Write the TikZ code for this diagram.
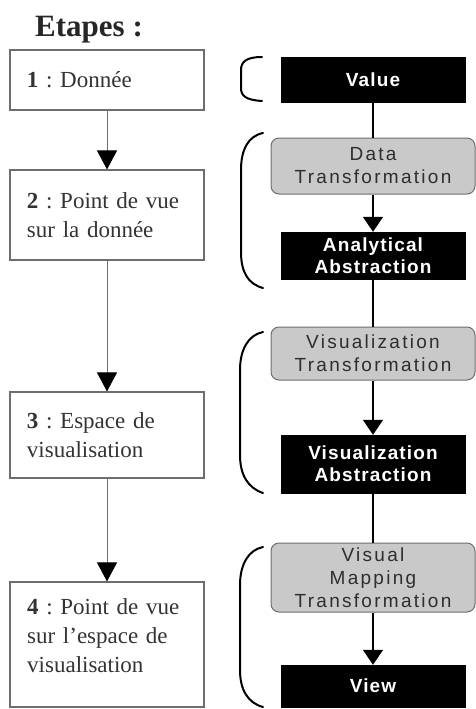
\documentclass[tikz,border=0pt]{standalone}
\usepackage{fontspec}
\setmainfont{Liberation Serif}
\newfontfamily\arsansb[LetterSpace=6]{Liberation Sans}
\newfontfamily\arsans[LetterSpace=12]{Liberation Sans}
\usetikzlibrary{arrows.meta}
\definecolor{boxgray}{HTML}{C9C9C9}
\definecolor{edgegray}{HTML}{6E6E6E}
\definecolor{txtgray}{HTML}{2E2E2E}
\frenchspacing
\begin{document}
\begin{tikzpicture}[x=1pt,y=-1pt,
  stepbox/.style={draw=edgegray, line width=1.1pt, minimum width=194pt, text width=160pt,
    inner xsep=17pt, align=left, font=\fontsize{23}{29}\selectfont, text=black!80},
  blackbox/.style={fill=black, draw=black, minimum width=184pt, align=center,
    font=\arsansb\bfseries\fontsize{19}{22}\selectfont, text=white, inner sep=0pt},
  graybox/.style={fill=boxgray, draw=edgegray, line width=1pt, rounded corners=8pt,
    minimum width=204pt, align=center, font=\arsans\fontsize{19}{23}\selectfont, text=txtgray, inner sep=0pt},
  leftarrow/.style={draw=edgegray, line width=1pt, -{Triangle[width=20pt,length=19pt,color=black]}},
  rightline/.style={draw=black, line width=1.4pt},
  rightarrow/.style={rightline, -{Triangle[width=20pt,length=15pt]}},
  brace/.style={draw=black, line width=2pt, line cap=round}]
\useasboundingbox (0,0) rectangle (476,709);

% title
\node[anchor=base west, inner sep=0pt, font=\bfseries\fontsize{31}{34}\selectfont, text=black!85] (title) at (35,37) {Etapes :};

% left steps
\node[stepbox, minimum height=60pt] (b1) at (107,80) {\textbf{1} : Donnée};
\node[stepbox, minimum height=90pt] (b2) at (107,215) {\textbf{2} : Point de vue sur la donnée};
\node[stepbox, minimum height=86pt] (b3) at (107,435) {\textbf{3} : Espace de visualisation};
\node[stepbox, minimum height=125pt] (b4) at (107,644.5) {};
\node[anchor=north west, text width=160pt, inner sep=0pt, align=left,
  font=\fontsize{23}{29}\selectfont, text=black!80] (t4) at (27,598) {\textbf{4} : Point de vue sur l'espace de visualisation};

\draw[leftarrow] (b1) -- (b2);
\draw[leftarrow] (b2) -- (b3);
\draw[leftarrow] (b3) -- (b4);

% right pipeline
\node[blackbox, minimum height=45pt] (val) at (373,79.5) {Value};
\node[graybox, minimum height=56pt] (dt) at (373,166) {Data\\Transformation};
\node[blackbox, minimum height=47pt] (aa) at (373,255.5) {Analytical\\Abstraction};
\node[graybox, minimum height=53pt] (vt) at (373,353.5) {Visualization\\Transformation};
\node[blackbox, minimum height=58pt] (va) at (373,464) {Visualization\\Abstraction};
\node[graybox, minimum height=69pt] (vmt) at (373,577.5) {Visual\\Mapping\\Transformation};
\node[blackbox, minimum height=42pt] (view) at (373,686) {View};

\draw[rightline] (val) -- (dt);
\draw[rightarrow] (dt) -- (aa);
\draw[rightline] (aa) -- (vt);
\draw[rightarrow] (vt) -- (va);
\draw[rightline] (va) -- (vmt);
\draw[rightarrow] (vmt) -- (view);

% braces
\draw[brace] (262,57) .. controls (246,57) and (241,62) .. (241,70) -- (241,88) .. controls (241,96) and (246,100) .. (262,101);
\draw[brace] (263,133) .. controls (248,136) and (241,150) .. (241,170) -- (241,252) .. controls (241,272) and (248,284) .. (263,288);
\draw[brace] (263,332) .. controls (248,335) and (240,350) .. (240,370) -- (240,455) .. controls (240,475) and (248,488) .. (263,493);
\draw[brace] (263,547) .. controls (248,550) and (240,565) .. (240,585) -- (240,670) .. controls (240,690) and (248,703) .. (263,707);
\end{tikzpicture}
\end{document}
